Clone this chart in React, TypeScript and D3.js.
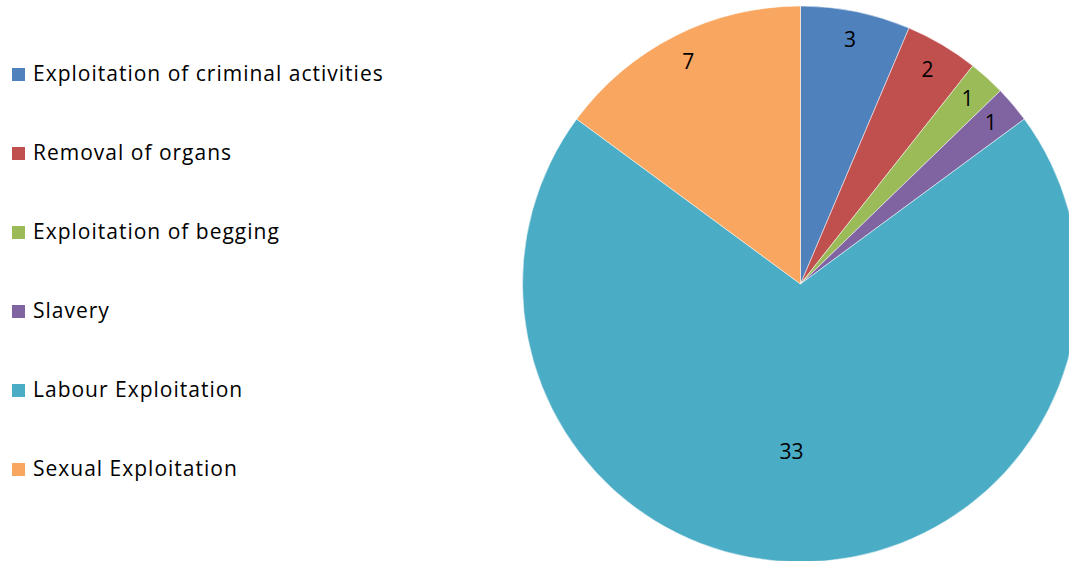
import React from "react";
import * as d3 from "d3";

const categories = [
  "Exploitation of criminal activities",
  "Removal of organs",
  "Exploitation of begging",
  "Slavery",
  "Labour Exploitation",
  "Sexual Exploitation",
];
const values = [3, 2, 1, 1, 33, 7];
const colors = ["#4F81BD", "#C0504D", "#9BBB59", "#8064A2", "#4BACC6", "#F8A660"];

const W = 1069;
const H = 561;
const cx = 800.5;
const cy = 284;
const R = 278;
const font = "'Open Sans', sans-serif";

export default function App() {
  const pie = d3.pie<number>().sort(null).value((d) => d);
  const arcs = pie(values);
  const arc = d3.arc<d3.PieArcDatum<number>>().innerRadius(0).outerRadius(R);
  const legendY = d3.scalePoint<number>().domain(d3.range(categories.length)).range([73, 468]);

  return (
    <svg width={W} height={H} style={{ position: "absolute", left: 0, top: 0, display: "block" }}>
      <rect width={W} height={H} fill="#fff" />
      <g transform={`translate(${cx},${cy})`}>
        {arcs.map((a, i) => (
          <path key={i} d={arc(a) || ""} fill={colors[i]} stroke="#fff" strokeWidth={0.5} />
        ))}
        {arcs.map((a, i) => {
          const big = a.endAngle - a.startAngle > Math.PI;
          const rr = big ? 168 : 249;
          const mid = (a.startAngle + a.endAngle) / 2;
          const x = Math.sin(mid) * rr;
          const y = -Math.cos(mid) * rr;
          return (
            <text key={i} x={big ? x - 9 : x} y={y + 7} textAnchor="middle"
              fontFamily={font} fontSize={21} fill="#000">
              {values[i]}
            </text>
          );
        })}
      </g>
      {categories.map((c, i) => (
        <g key={c} transform={`translate(0,${legendY(i)})`}>
          <rect x={12} y={-5} width={13} height={13} fill={colors[i]} />
          <text x={33} y={8} fontFamily={font} fontSize={21} letterSpacing={1} fill="#000">
            {c}
          </text>
        </g>
      ))}
    </svg>
  );
}
